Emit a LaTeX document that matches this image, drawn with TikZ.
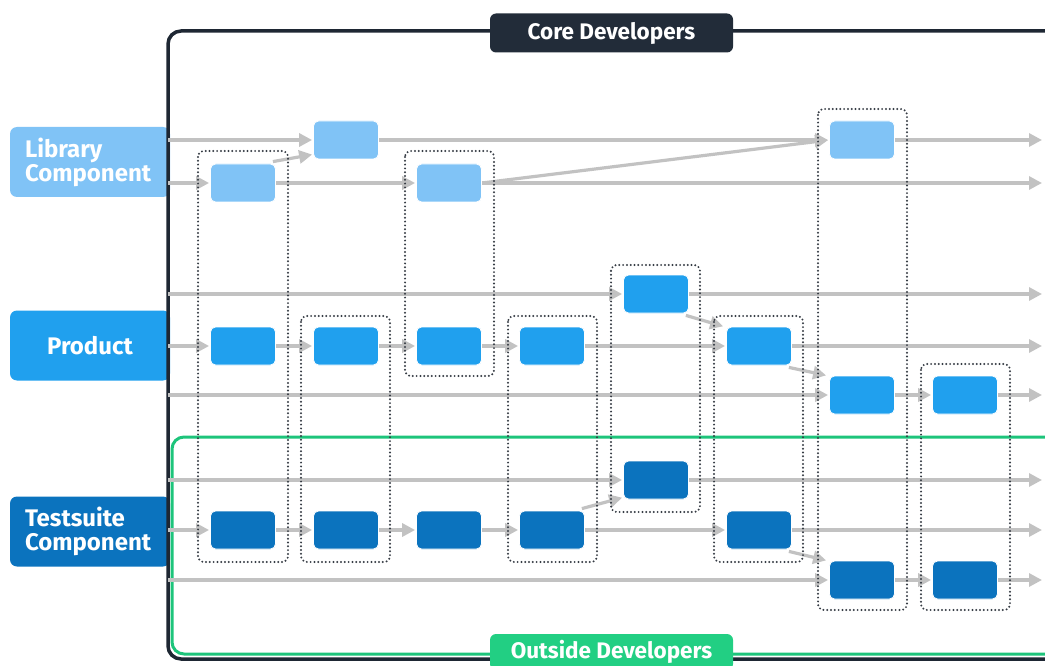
\documentclass[tikz,border=0pt]{standalone}
\usepackage{fontspec}
\setmainfont{Fira Sans}
\usetikzlibrary{arrows.meta}
\definecolor{framedark}{HTML}{1E2733}
\definecolor{labeldark}{HTML}{222C39}
\definecolor{framegreen}{HTML}{1DC47B}
\definecolor{labelgreen}{HTML}{22CF83}
\definecolor{libblue}{HTML}{80C3F6}
\definecolor{prodblue}{HTML}{20A0EE}
\definecolor{testblue}{HTML}{0B73BE}
\definecolor{flowgray}{HTML}{C2C2C2}
\definecolor{groupgray}{HTML}{363C44}
\tikzset{
  flow/.style={draw=flowgray, line width=3.2pt, -{Triangle[length=13pt,width=13pt]}, shorten >=1pt},
  box/.style={rectangle, rounded corners=5pt, minimum width=65pt, minimum height=38pt, inner sep=0pt, draw=white, line width=0.8pt},
  libbox/.style={box, fill=libblue},
  prodbox/.style={box, fill=prodblue},
  testbox/.style={box, fill=testblue},
  release/.style={draw=groupgray, line width=2.2pt, rounded corners=6pt, line cap=round, dash pattern=on 0pt off 3.8pt},
  rowlabel/.style={rectangle, rounded corners=7pt, minimum width=160pt, minimum height=70pt, inner sep=0pt, text=white, font=\fontsize{24}{24}\selectfont\bfseries},
  teamlabel/.style={rectangle, rounded corners=6pt, minimum width=243pt, minimum height=39pt, inner sep=0pt, text=white, font=\fontsize{22.5}{24}\selectfont\bfseries}
}
\begin{document}
\begin{tikzpicture}[x=1pt,y=-1pt]
\useasboundingbox (0,0) rectangle (1045,666);
\clip (0,0) rectangle (1045,666);

% component labels on the left
\node[rowlabel, fill=libblue] (libL) at (90,162) {\parbox{130pt}{\raggedright Library\\Component}};
\node[rowlabel, fill=prodblue] (prodL) at (90,345.5) {Product};
\node[rowlabel, fill=testblue] (testL) at (90,531.5) {\parbox{130pt}{\raggedright Testsuite\\Component}};

% team frames
\draw[framedark, line width=3.5pt, rounded corners=13pt] (168,31) rectangle (1080,659);
\draw[framegreen, line width=3pt, rounded corners=12pt] (172,437) rectangle (1080,654);

% row start and end points
\foreach \n/\y in {la/140, lb/183, pa/294, pb/346, pc/395, ta/480, tb/530, tc/580} {
  \coordinate (\n-s) at (168,\y);
  \coordinate (\n-e) at (1043,\y);
}

% versions
\node[libbox] (la2) at (346,140) {};
\node[libbox] (la7) at (862,140) {};
\node[libbox] (lb1) at (243,183) {};
\node[libbox] (lb3) at (449,183) {};

\node[prodbox] (pa5) at (656,294) {};
\node[prodbox] (pb1) at (243,346) {};
\node[prodbox] (pb2) at (346,346) {};
\node[prodbox] (pb3) at (449,346) {};
\node[prodbox] (pb4) at (552,346) {};
\node[prodbox] (pb6) at (759,346) {};
\node[prodbox] (pc7) at (862,395) {};
\node[prodbox] (pc8) at (965,395) {};

\node[testbox] (ta5) at (656,480) {};
\node[testbox] (tb1) at (243,530) {};
\node[testbox] (tb2) at (346,530) {};
\node[testbox] (tb3) at (449,530) {};
\node[testbox] (tb4) at (552,530) {};
\node[testbox] (tb6) at (759,530) {};
\node[testbox] (tc7) at (862,580) {};
\node[testbox] (tc8) at (965,580) {};

% version flow along each row
\foreach \a/\b in {la-s/la2, la2/la7, lb-s/lb1, lb1/lb3, pa-s/pa5, pb-s/pb1, pb1/pb2, pb2/pb3, pb3/pb4, pb4/pb6, pc-s/pc7, pc7/pc8, ta-s/ta5, tb-s/tb1, tb1/tb2, tb2/tb3, tb3/tb4, tb4/tb6, tc-s/tc7, tc7/tc8} {
  \draw[flow] (\a.east) -- (\b.west);
}
\foreach \a/\b in {la7/la-e, lb3/lb-e, pa5/pa-e, pb6/pb-e, pc8/pc-e, ta5/ta-e, tb6/tb-e, tc8/tc-e} {
  \draw[flow] (\a.east) -- (\b);
}
% branches between rows
\draw[flow] ([shift={(-3,-2)}]lb1.north east) -- ([yshift=5pt]la2.south west);
\draw[flow] (lb3.east) -- (la7.west);
\draw[flow] ([shift={(-3,2)}]pa5.south east) -- ([xshift=-2pt]pb6.north west);
\draw[flow] ([shift={(-3,2)}]pb6.south east) -- ([xshift=-2pt]pc7.north west);
\draw[flow] ([shift={(-3,-2)}]tb4.north east) -- ([yshift=2pt]ta5.south west);
\draw[flow] ([shift={(-3,2)}]tb6.south east) -- ([xshift=-2pt]tc7.north west);

% boxes again on top of the flow lines
\foreach \n in {la2, la7, lb1, lb3} {
  \node[libbox] at (\n) {};
}
\foreach \n in {pa5, pb1, pb2, pb3, pb4, pb6, pc7, pc8} {
  \node[prodbox] at (\n) {};
}
\foreach \n in {ta5, tb1, tb2, tb3, tb4, tb6, tc7, tc8} {
  \node[testbox] at (\n) {};
}

% releases
\draw[release] (198,151) rectangle (288,562);
\draw[release] (301,316) rectangle (390,562);
\draw[release] (405,151) rectangle (494,376);
\draw[release] (508,316) rectangle (597,562);
\draw[release] (611,265) rectangle (700,512);
\draw[release] (714,316) rectangle (803,562);
\draw[release] (818,109) rectangle (907,610);
\draw[release] (921,364) rectangle (1010,610);

% team names
\node[teamlabel, fill=labeldark] (core) at (611.5,33) {Core Developers};
\node[teamlabel, fill=labelgreen, minimum height=36pt] (outside) at (611.5,652) {Outside Developers};
\end{tikzpicture}
\end{document}
